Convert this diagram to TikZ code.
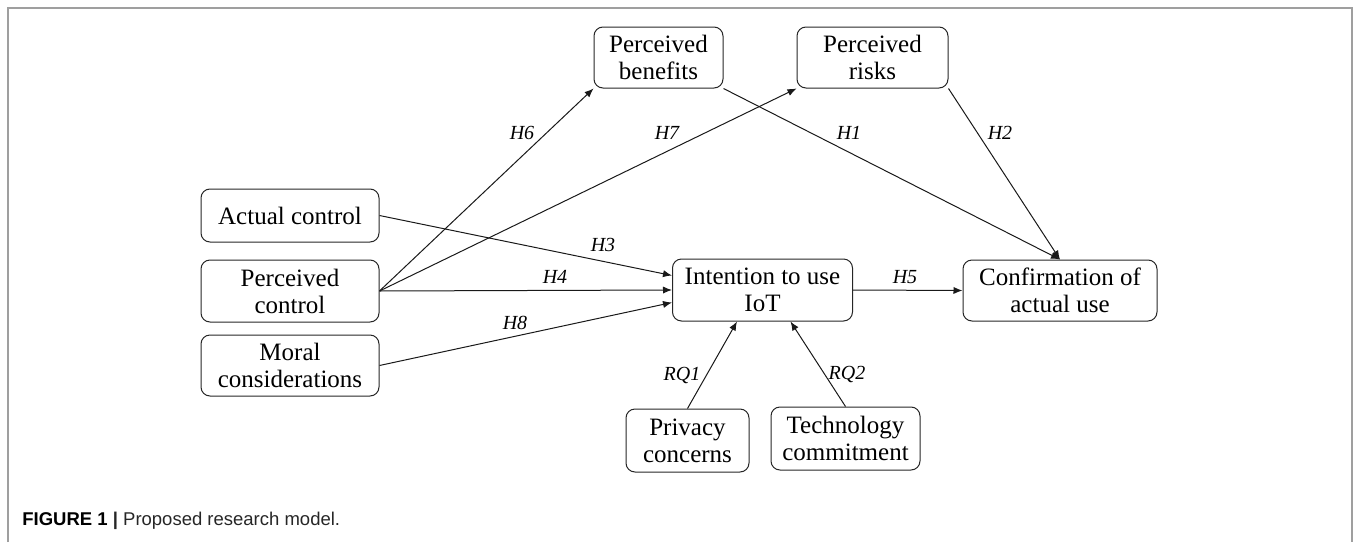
\documentclass[tikz,border=0pt]{standalone}
\usepackage{fontspec}
\setmainfont{Liberation Serif}
\newfontfamily\capfont{Liberation Sans}
\usetikzlibrary{arrows.meta}

\begin{document}
\begin{tikzpicture}[x=0.5pt,y=-0.5pt,
  construct/.style={draw=black!85, line width=0.5pt, rounded corners=4.5pt,
    align=center, inner sep=0pt, font=\fontsize{12.5}{13.5}\selectfont},
  link/.style={-{Latex[length=4.5pt,width=3.6pt]}, line width=0.5pt, black!90},
  hyp/.style={font=\fontsize{10}{12}\selectfont\itshape, inner sep=0pt}
]
\useasboundingbox (0,0) rectangle (1357,542);
% figure frame, open at the bottom
\draw[gray!75, line width=0.7pt] (8,542) -- (8,8) -- (1352,8) -- (1352,542);

% constructs
\node[construct, minimum width=64.5pt, minimum height=30.5pt] (ben)   at (658.5,57.5) {Perceived\\benefits};
\node[construct, minimum width=75.5pt, minimum height=30.5pt] (risk)  at (872.5,57.5) {Perceived\\risks};
\node[construct, minimum width=89pt,   minimum height=26.5pt] (act)   at (290,215.5)  {Actual control};
\node[construct, minimum width=89pt,   minimum height=31pt]   (pc)    at (290,291)    {Perceived\\control};
\node[construct, minimum width=89pt,   minimum height=30.5pt] (moral) at (290,365.5)  {Moral\\considerations};
\node[construct, minimum width=90pt,   minimum height=31pt]   (int)   at (762.5,290)  {Intention to use\\IoT};
\node[construct, minimum width=97pt,   minimum height=30.5pt] (conf)  at (1060,290.5) {Confirmation of\\actual use};
\node[construct, minimum width=61.5pt, minimum height=31.5pt] (priv)  at (687.5,440.5){Privacy\\concerns};
\node[construct, minimum width=74.5pt, minimum height=31.5pt] (tech)  at (845.5,438.5){Technology\\commitment};

% hypothesised paths
\draw[link] (pc.east) -- (ben.south west);
\draw[link] (pc.east) -- (risk.south west);
\draw[link] (pc.east) -- (int.west);
\draw[link] (act.east) -- ([yshift=7.25pt]int.west);
\draw[link] (moral.east) -- ([yshift=-6.25pt]int.west);
\draw[link] (int.east) -- (conf.west);
\draw[link] (ben.south east) -- (conf.north);
\draw[link] (risk.south east) -- (conf.north);
\draw[link] (priv.north) -- ([xshift=-12.75pt]int.south);
\draw[link] (tech.north) -- ([xshift=14pt]int.south);

% path labels
\node[hyp] (lh6) at (522,133) {H6};
\node[hyp] (lh7) at (667,133) {H7};
\node[hyp] (lh1) at (849,133) {H1};
\node[hyp] (lh2) at (1000,133) {H2};
\node[hyp] (lh3) at (603,245) {H3};
\node[hyp] (lh4) at (555,277) {H4};
\node[hyp] (lh8) at (515,323) {H8};
\node[hyp] (lh5) at (905,277) {H5};
\node[hyp] (lq1) at (682,375) {RQ1};
\node[hyp] (lq2) at (847,374) {RQ2};

% caption
\node[anchor=west, inner sep=0pt, font=\capfont\fontsize{9.25}{11}\selectfont, text=black!85]
  (cap) at (22,521) {{\bfseries\color{black}FIGURE 1} {\bfseries|} Proposed research model.};
\end{tikzpicture}
\end{document}
